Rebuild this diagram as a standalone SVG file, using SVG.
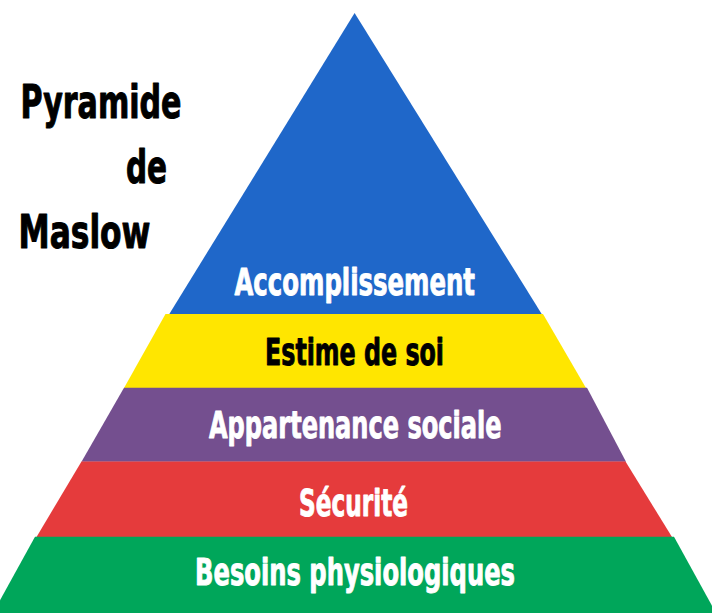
<svg xmlns="http://www.w3.org/2000/svg" width="712" height="613" viewBox="0 0 712 613">
<style>
.t{font-family:"DejaVu Sans","Liberation Sans",sans-serif;font-weight:bold;font-stretch:condensed;stroke-linejoin:round;}
.w{fill:#ffffff;stroke:#ffffff;stroke-width:0.9px;font-size:38px;}
.k{fill:#000000;stroke:#000000;stroke-width:0.9px;font-size:38px;}
.h{fill:#000000;stroke:#000000;stroke-width:1px;font-size:46px;}
</style>
<rect width="712" height="613" fill="#ffffff"/>
<g id="title">
<text class="t h" x="20.5" y="118" textLength="161" lengthAdjust="spacingAndGlyphs">Pyramide</text>
<text class="t h" x="126" y="183" textLength="41" lengthAdjust="spacingAndGlyphs">de</text>
<text class="t h" x="18.5" y="248" textLength="132" lengthAdjust="spacingAndGlyphs">Maslow</text>
</g>
<g id="layer-accomplissement">
<polygon points="354.6,13 169,314.5 542,314.5" fill="#1F67C9"/>
<text class="t w" x="234.5" y="294.5" textLength="240.5" lengthAdjust="spacingAndGlyphs">Accomplissement</text>
</g>
<g id="layer-estime">
<polygon points="165.5,314 543,314 586,388 124,388" fill="#FFE600"/>
<text class="t k" x="265" y="364.5" textLength="179" lengthAdjust="spacingAndGlyphs">Estime de soi</text>
</g>
<g id="layer-appartenance">
<polygon points="124,387.7 587,387.7 626,461.7 81.5,461.7" fill="#744F8F"/>
<text class="t w" x="209" y="438" textLength="292.5" lengthAdjust="spacingAndGlyphs">Appartenance sociale</text>
</g>
<g id="layer-securite">
<polygon points="81.5,461.5 625.5,461.5 672,537 36.5,537" fill="#E53B3C"/>
<text class="t w" x="299" y="515.5" textLength="109" lengthAdjust="spacingAndGlyphs">Sécurité</text>
</g>
<g id="layer-besoins">
<polygon points="35,536.7 674,536.7 716,613 -7,613" fill="#00A65A"/>
<text class="t w" x="195" y="585" textLength="320" lengthAdjust="spacingAndGlyphs">Besoins physiologiques</text>
</g>
</svg>
